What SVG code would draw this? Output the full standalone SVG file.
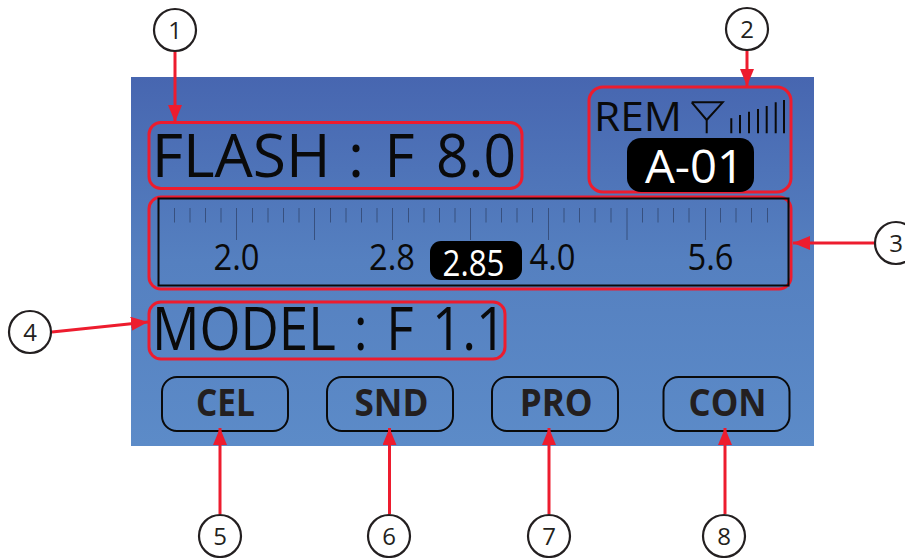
<svg xmlns="http://www.w3.org/2000/svg" width="905" height="558" viewBox="0 0 905 558">
<style>
text{font-family:"Open Sans","Noto Sans","Liberation Sans",sans-serif;fill:#0a0a0a}
.hl{fill:none;stroke:#ed1c2e;stroke-width:3}
.btn{fill:none;stroke:#0a0a0a;stroke-width:2}
.bt{font-size:37px;font-weight:700;fill:#231f20}
.sc{font-size:37px}
.big{font-size:61px}
.circ{fill:#fff;stroke:#231f20;stroke-width:2.2}
.num{font-size:24px;text-anchor:middle;fill:#231f20}
.con{stroke:#ed1c2e;stroke-width:3;fill:none;marker-end:url(#arr)}
</style>
<defs>
<linearGradient id="bg" x1="0" y1="0" x2="0" y2="1"><stop offset="0" stop-color="#4766b0"/><stop offset="0.5" stop-color="#5580c0"/><stop offset="1" stop-color="#5c8bc8"/></linearGradient>
<marker id="arr" markerUnits="userSpaceOnUse" markerWidth="18" markerHeight="18" refX="17" refY="7" orient="auto"><path d="M0 0L17 7L0 14Z" fill="#ed1c2e"/></marker>
</defs>
<rect x="131" y="77" width="683" height="369" fill="url(#bg)"/>
<g id="flash"><rect class="hl" x="149" y="122.500" width="373" height="66" rx="12"/><text class="big" y="176.700"><tspan x="151.700" textLength="179" lengthAdjust="spacingAndGlyphs">FLASH</tspan> <tspan x="348">:</tspan> <tspan x="384.600" textLength="30" lengthAdjust="spacingAndGlyphs">F</tspan> <tspan x="436" textLength="80" lengthAdjust="spacingAndGlyphs">8.0</tspan></text></g>
<g id="remote"><rect class="hl" x="589" y="87" width="202" height="105" rx="14"/><text x="594" y="131" font-size="40.500" textLength="88" lengthAdjust="spacingAndGlyphs">REM</text>
<path d="M691.700 102.300H722.700L706.700 120V133.300M691.700 102.300L706.700 120" fill="none" stroke="#0a0a0a" stroke-width="2"/>
<path d="M731.300 133.300V118.300M740 133.300V115M749 133.300V111.700M758 133.300V109M766.700 133.300V106M775.700 133.300V102.300M784 133.300V100" fill="none" stroke="#0a0a0a" stroke-width="2"/>
<rect x="627" y="138" width="127" height="54" rx="14" fill="#000"/><text x="645" y="182.700" font-size="46" style="fill:#fff" textLength="99" lengthAdjust="spacingAndGlyphs">A-01</text></g>
<g id="scale"><rect class="hl" x="149" y="197" width="642" height="92" rx="12"/><rect x="158.500" y="198.500" width="630" height="87" fill="none" stroke="#0a0a0a" stroke-width="2"/>
<path d="M174.500 208v14.500M190 208v14.500M205.500 208v14.500M221 208v14.500M252.500 208v14.500M268 208v14.500M283.500 208v14.500M299 208v14.500M330.500 208v14.500M346 208v14.500M361.500 208v14.500M377 208v14.500M408.500 208v14.500M424 208v14.500M439.500 208v14.500M455 208v14.500M486 208v14.500M501.500 208v14.500M517 208v14.500M532.500 208v14.500M564 208v14.500M579.500 208v14.500M595 208v14.500M611 208v14.500M642.500 208v14.500M658 208v14.500M673.500 208v14.500M689 208v14.500M720.500 208v14.500M736 208v14.500M751.500 208v14.500M767.500 208v14.500M236.500 208v32M314.500 208v32M392.500 208v32M470.500 208v32M548.500 208v32M627 208v32M705.500 208v32" fill="none" stroke="#37507f" stroke-width="1"/>
<text class="sc" x="213.500" y="269.500" textLength="46" lengthAdjust="spacingAndGlyphs">2.0</text><text class="sc" x="369" y="269.500" textLength="46" lengthAdjust="spacingAndGlyphs">2.8</text><text class="sc" x="529.500" y="269.500" textLength="46" lengthAdjust="spacingAndGlyphs">4.0</text><text class="sc" x="687.500" y="269.500" textLength="46" lengthAdjust="spacingAndGlyphs">5.6</text>
<rect x="430" y="241" width="92" height="39" rx="11" fill="#000"/><text class="sc" x="442.500" y="275.700" style="fill:#fff" textLength="62" lengthAdjust="spacingAndGlyphs">2.85</text></g>
<g id="model"><rect class="hl" x="149" y="302" width="356" height="57" rx="12"/><text transform="scale(.88 1)" y="350" style="font-size:60px"><tspan x="172.700">MODEL</tspan> <tspan x="402">:</tspan> <tspan x="439">F</tspan> <tspan x="490.900">1.1</tspan></text></g>
<g id="cel"><rect class="btn" x="162" y="377" width="126" height="54" rx="15"/><text class="bt" x="196" y="415.700" textLength="59" lengthAdjust="spacingAndGlyphs">CEL</text></g>
<g id="snd"><rect class="btn" x="327" y="377" width="126" height="54" rx="15"/><text class="bt" x="354.500" y="415.700" textLength="74" lengthAdjust="spacingAndGlyphs">SND</text></g>
<g id="pro"><rect class="btn" x="492" y="377" width="126" height="54" rx="15"/><text class="bt" x="519.700" y="415.700" textLength="73" lengthAdjust="spacingAndGlyphs">PRO</text></g>
<g id="con"><rect class="btn" x="663.500" y="377" width="126" height="54" rx="15"/><text class="bt" x="688.500" y="415.700" textLength="78" lengthAdjust="spacingAndGlyphs">CON</text></g>
<g id="connectors">
<path class="con" d="M175 51V122"/><path class="con" d="M747 50V86"/><path class="con" d="M875 243H793"/><path class="con" d="M52 332L148 322"/>
<path class="con" d="M220 514V428"/><path class="con" d="M389.500 514V428"/><path class="con" d="M549 514V428"/><path class="con" d="M725 514V428"/>
</g>
<g id="c1"><circle class="circ" cx="175" cy="30" r="21"/><text class="num" x="175" y="39">1</text></g>
<g id="c2"><circle class="circ" cx="747" cy="29" r="21"/><text class="num" x="747" y="38">2</text></g>
<g id="c3"><circle class="circ" cx="896" cy="243" r="21"/><text class="num" x="896" y="252">3</text></g>
<g id="c4"><circle class="circ" cx="30" cy="332" r="21"/><text class="num" x="30" y="341">4</text></g>
<g id="c5"><circle class="circ" cx="220" cy="536" r="21"/><text class="num" x="220" y="545">5</text></g>
<g id="c6"><circle class="circ" cx="389" cy="536" r="21"/><text class="num" x="389" y="545">6</text></g>
<g id="c7"><circle class="circ" cx="549" cy="536" r="21"/><text class="num" x="549" y="545">7</text></g>
<g id="c8"><circle class="circ" cx="724" cy="536" r="21"/><text class="num" x="724" y="545">8</text></g>
</svg>
